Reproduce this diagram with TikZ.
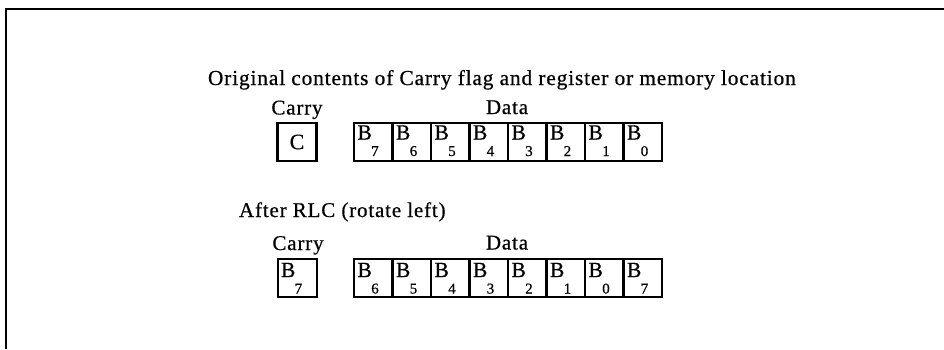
\documentclass[tikz,border=0pt]{standalone}
\usepackage{fontspec}
\setmainfont{Liberation Serif}[LetterSpace=4, FakeBold=0.6]
\usetikzlibrary{calc}
\newcommand\bitlbl[1]{{\fontsize{21.5}{24}\selectfont B}\kern-0.6pt\raisebox{-16.5pt}{\fontsize{15}{15}\selectfont #1}}
\begin{document}
\begin{tikzpicture}[x=1pt,y=-1pt,
  lbl/.style={inner sep=0, outer sep=0, font=\fontsize{21}{24}\selectfont},
  cell/.style={draw, line width=2.1pt, minimum width=38.5pt, minimum height=38pt,
               inner sep=0, outer sep=0, anchor=north west},
  frame/.style={line width=2.4pt}]
\useasboundingbox (0,0) rectangle (944,349);
% open frame
\coordinate (fb) at (6,349);
\coordinate (fc) at (6,9);
\coordinate (fr) at (944,9);
\draw[frame] (fb) -- (fc) -- (fr);

% top part
\node[lbl, anchor=base west, font=\fontsize{21.35}{24}\selectfont] (title1) at (208,85) {Original contents of Carry flag and register or memory location};
\node[lbl, anchor=base] (carry1) at (297,114.5) {Carry};
\node[lbl, anchor=base] (data1) at (507,114) {Data};
\node[cell, minimum width=39pt] (tc) at (277.5,123) {};
\node[lbl, font=\fontsize{22}{24}\selectfont] (tcl) at (tc.center) {C};
\foreach \d [count=\i from 0] in {7,6,5,4,3,2,1,0} {
  \node[cell] (ta\i) at (354+38.5*\i,123) {};
  \node[lbl, anchor=base west] (tal\i) at ($(ta\i.north west)+(3.5,16.5)$) {\bitlbl{\d}};
}

% bottom part
\node[lbl, anchor=base west] (title2) at (239,217) {After RLC (rotate left)};
\node[lbl, anchor=base] (carry2) at (298,250) {Carry};
\node[lbl, anchor=base] (data2) at (507,249.5) {Data};
\node[cell, minimum width=39pt] (bc) at (278,259) {};
\node[lbl, anchor=base west] (bcl) at ($(bc.north west)+(3,18)$) {\bitlbl{7}};
\foreach \d [count=\i from 0] in {6,5,4,3,2,1,0,7} {
  \node[cell] (ba\i) at (354+38.5*\i,259) {};
  \node[lbl, anchor=base west] (bal\i) at ($(ba\i.north west)+(3.5,18)$) {\bitlbl{\d}};
}
\end{tikzpicture}
\end{document}
